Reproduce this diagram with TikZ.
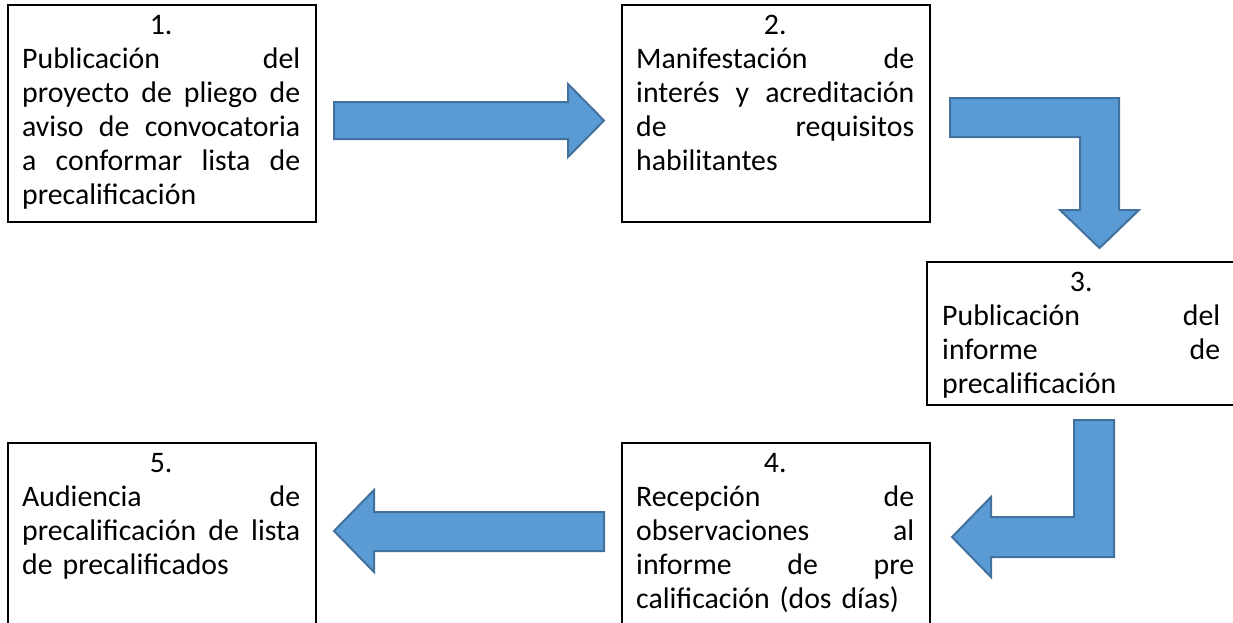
\documentclass[tikz,border=0pt]{standalone}
\usepackage{fontspec}
\setmainfont{Carlito}
\definecolor{arrowfill}{HTML}{5B9BD5}
\definecolor{arrowline}{HTML}{41719C}
\newcommand\justline[1]{\makebox[278pt][l]{#1}}
\newcommand\centline[1]{\makebox[278pt][c]{#1}}
\newcommand\gap{\hfill\ }
\tikzset{
  stepbox/.style={draw=black, line width=2pt, fill=white, anchor=north west,
    minimum width=308pt, inner sep=0pt, outer sep=0pt},
  steptext/.style={anchor=base west, inner sep=0pt, text width=278pt, align=left,
    font=\fontsize{29.8pt}{34pt}\selectfont, text=black},
  blockarrow/.style={fill=arrowfill, draw=arrowline, line width=2pt, line join=miter}
}
\begin{document}
\begin{tikzpicture}[x=1pt,y=-1pt]
\useasboundingbox (0,0) rectangle (1233,622);
\clip (0,0) rectangle (1233,622);
\fill[white] (0,0) rectangle (1233,622);

% boxes
\node[stepbox, minimum height=217pt] (b1) at (8,5) {};
\node[stepbox, minimum height=217pt] (b2) at (622,5) {};
\node[stepbox, minimum height=143pt] (b3) at (927,262) {};
\node[stepbox, minimum height=200pt] (b4) at (622,443) {};
\node[stepbox, minimum height=200pt] (b5) at (8,443) {};

% texts
\node[steptext] (t1) at ([xshift=14pt,yshift=-29pt]b1.north west) {%
\centline{1.}\\
\justline{Publicación\gap del}\\
\justline{proyecto\gap de\gap pliego\gap de}\\
\justline{aviso\gap de\gap convocatoria}\\
\justline{a\gap conformar\gap lista\gap de}\\
precalificación};
\node[steptext] (t2) at ([xshift=14pt,yshift=-29pt]b2.north west) {%
\centline{2.}\\
\justline{Manifestación\gap de}\\
\justline{interés\gap y\gap acreditación}\\
\justline{de\gap requisitos}\\
habilitantes};
\node[steptext] (t3) at ([xshift=15pt,yshift=-29pt]b3.north west) {%
\centline{3.}\\
\justline{Publicación\gap del}\\
\justline{informe\gap de}\\
precalificación};
\node[steptext] (t4) at ([xshift=14pt,yshift=-29pt]b4.north west) {%
\centline{4.}\\
\justline{Recepción\gap de}\\
\justline{observaciones\gap al}\\
\justline{informe\gap de\gap pre}\\
calificación (dos días)};
\node[steptext] (t5) at ([xshift=14pt,yshift=-29pt]b5.north west) {%
\centline{5.}\\
\justline{Audiencia\gap de}\\
\justline{precalificación\gap de\gap lista}\\
de precalificados};

% block arrows
\path[blockarrow] (334,102) -- (568,102) -- (568,84) -- (604,120.5) -- (568,157)
  -- (568,139) -- (334,139) -- cycle;
\path[blockarrow] (950,98) -- (1119,98) -- (1119,210) -- (1139,210) -- (1099.5,248)
  -- (1060,210) -- (1080,210) -- (1080,137) -- (950,137) -- cycle;
\path[blockarrow] (1074,420) -- (1114,420) -- (1114,557) -- (991,557) -- (991,577)
  -- (952,537) -- (991,497) -- (991,517) -- (1074,517) -- cycle;
\path[blockarrow] (604,512) -- (374,512) -- (374,490) -- (334,531) -- (374,572)
  -- (374,551) -- (604,551) -- cycle;
\end{tikzpicture}
\end{document}
